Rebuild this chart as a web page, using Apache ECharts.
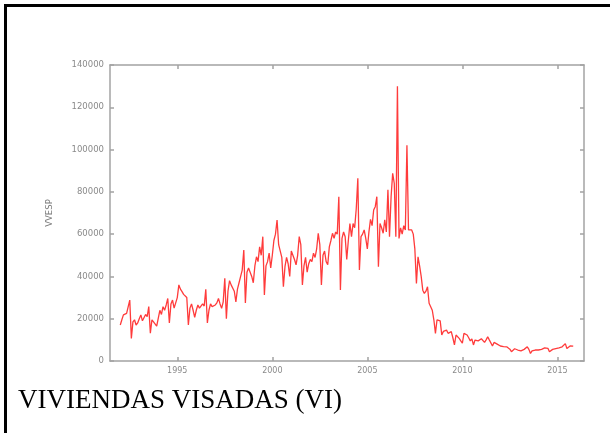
<!DOCTYPE html>
<html>
<head>
<meta charset="utf-8">
<script src="https://cdn.jsdelivr.net/npm/echarts@6/dist/echarts.min.js"></script>
<style>
  html, body { margin: 0; padding: 0; background: #fff; }
  #chart { width: 610px; height: 433px; }
</style>
</head>
<body>
<div id="chart"></div>
<script>
// Viviendas visadas, serie mensual (enero de cada año en adelante)
const years = [1992, 1993, 1994, 1995, 1996, 1997, 1998, 1999, 2000, 2001, 2002, 2003,
               2004, 2005, 2006, 2007, 2008, 2009, 2010, 2011, 2012, 2013, 2014, 2015];

const v1992 = [17000, 19500, 21800, 22500, 22500, 23000, 28800, 10700, 18500, 19500, 17000, 18000];
const v1993 = [20000, 21800, 19000, 18500, 22000, 21000, 25700, 13200, 19500, 18500, 18000, 16500];
const v1994 = [17000, 24000, 22000, 25700, 24000, 26500, 29600, 18000, 27000, 28800, 25000, 25700];
const v1995 = [30000, 36000, 34000, 32800, 31500, 31000, 30000, 17000, 25000, 27000, 24000, 20600];
const v1996 = [24000, 26500, 25000, 25700, 27000, 26000, 33900, 18000, 24000, 27000, 25700, 26500];
const v1997 = [26500, 27500, 29600, 27000, 24900, 28000, 39100, 20000, 33000, 38000, 36000, 36500];
const v1998 = [33000, 28000, 34000, 37000, 40000, 43000, 52500, 27400, 42000, 44000, 44600, 40000];
const v1999 = [37000, 45000, 49300, 47000, 54000, 50000, 58800, 31200, 45000, 47000, 51000, 44000];
const v2000 = [50000, 57000, 60000, 66700, 55000, 55000, 49000, 35100, 44600, 49000, 46000, 40000];
const v2001 = [52000, 52500, 48000, 45500, 50000, 58800, 55000, 36000, 45000, 49000, 42000, 46000];
const v2002 = [48000, 47000, 51000, 49000, 53000, 60400, 55000, 36000, 50000, 52000, 47000, 45500];
const v2003 = [54000, 57000, 60400, 58000, 61000, 60000, 77700, 33600, 58000, 61000, 58800, 48000];
const v2004 = [57000, 65000, 58800, 65000, 63000, 72000, 86400, 43000, 58800, 60000, 62000, 58000];
const v2005 = [53000, 61000, 67000, 64000, 71400, 73000, 77700, 44600, 65000, 63000, 60400, 66800];
const v2006 = [61000, 81000, 58800, 77700, 88800, 84000, 58800, 130000, 58000, 63000, 60000, 64000];
const v2007 = [62000, 102000, 62000, 62500, 62000, 60000, 53000, 36700, 49300, 45000, 40000, 33500];
const v2008 = [32000, 33000, 35100, 27300, 25700, 24000, 19500, 13100, 19500, 20000, 19000, 12300];
const v2009 = [14000, 13900, 14600, 13100, 13700, 13900, 11000, 7600, 12300, 11500, 10700, 9500];
const v2010 = [8400, 13100, 12800, 12300, 11000, 9500, 10500, 7600, 9900, 10500, 9500, 10000];
const v2011 = [10500, 9800, 8800, 10000, 11500, 10000, 9500, 7100, 8800, 8500, 8000, 7600];
const v2012 = [7100, 7000, 6800, 6500, 6700, 6000, 5600, 4400, 5200, 5800, 5900, 5200];
const v2013 = [5200, 4800, 5200, 5500, 6000, 6700, 5500, 3600, 4800, 5000, 5200, 4800];
const v2014 = [5200, 5900, 5500, 6000, 6200, 7100, 6000, 4400, 3600, 5500, 5600, 5900];
const v2015 = [5900, 6200, 6000, 6700, 7000, 8200, 5900, 5200, 7100, 6500, 7000];

const monthly = [v1992, v1993, v1994, v1995, v1996, v1997, v1998, v1999, v2000, v2001, v2002, v2003,
                 v2004, v2005, v2006, v2007, v2008, v2009, v2010, v2011, v2012, v2013, v2014, v2015];

const xTicks = [1995, 2000, 2005, 2010, 2015];
const yTickLabels = ['0', '20000', '40000', '60000', '80000', '100000', '120000', '140000'];

const seriesName = 'VVESP';
const caption = 'VIVIENDAS VISADAS (VI)';

// [fecha decimal, valor] para cada mes
const points = [];
years.forEach((y, i) => {
  monthly[i].forEach((v, m) => points.push([y + m / 12, v]));
});

const frameColor = '#a3a3a3';
const labelColor = '#8a8a8a';
const tickStyle = { show: true, inside: true, length: 4, lineStyle: { color: frameColor, width: 1.5 } };
const xMin = 1991.46, xMax = 2016.4;

const chart = echarts.init(document.getElementById('chart'), null, { renderer: 'canvas' });
chart.setOption({
  animation: false,
  backgroundColor: '#ffffff',
  title: {
    text: caption,
    left: 18,
    top: 387,
    padding: 0,
    textStyle: { fontFamily: 'Liberation Serif', fontWeight: 'normal', fontSize: 27, color: '#000' }
  },
  grid: { left: 110, top: 65, right: 26, bottom: 72, show: false },
  xAxis: [
    {
      type: 'value', min: xMin, max: xMax, position: 'bottom',
      axisLine: { show: true, onZero: false, lineStyle: { color: frameColor, width: 1.5 } },
      axisTick: Object.assign({ customValues: xTicks }, tickStyle),
      axisLabel: {
        customValues: xTicks, margin: 6, color: labelColor,
        fontFamily: 'DejaVu Sans', fontSize: 8, formatter: v => String(Math.round(v))
      },
      splitLine: { show: false }
    },
    {
      type: 'value', min: xMin, max: xMax, position: 'top',
      axisLine: { show: true, onZero: false, lineStyle: { color: frameColor, width: 1.5 } },
      axisTick: Object.assign({ customValues: xTicks }, tickStyle),
      axisLabel: { show: false },
      splitLine: { show: false }
    }
  ],
  yAxis: [
    {
      type: 'value', min: 0, max: 140000, interval: 20000, position: 'left',
      name: seriesName, nameLocation: 'middle', nameGap: 56, nameRotate: 90,
      nameTextStyle: { color: '#7a7a7a', fontFamily: 'DejaVu Sans', fontSize: 8.5 },
      axisLine: { show: true, onZero: false, lineStyle: { color: frameColor, width: 1.5 } },
      axisTick: tickStyle,
      axisLabel: {
        margin: 6, color: labelColor, fontFamily: 'DejaVu Sans', fontSize: 8.5,
        formatter: v => yTickLabels[Math.round(v / 20000)]
      },
      splitLine: { show: false }
    },
    {
      type: 'value', min: 0, max: 140000, interval: 20000, position: 'right',
      axisLine: { show: true, onZero: false, lineStyle: { color: frameColor, width: 1.5 } },
      axisTick: tickStyle,
      axisLabel: { show: false },
      splitLine: { show: false }
    }
  ],
  series: [{
    name: seriesName,
    type: 'line',
    data: points,
    xAxisIndex: 0,
    yAxisIndex: 0,
    symbol: 'none',
    lineStyle: { color: '#ff3b3b', width: 1.3 },
    z: 3
  }],
  graphic: [
    { type: 'rect', shape: { x: 4, y: 4, width: 606, height: 3 }, style: { fill: '#000' }, z: 10 },
    { type: 'rect', shape: { x: 4, y: 4, width: 3, height: 429 }, style: { fill: '#000' }, z: 10 }
  ]
});
</script>
</body>
</html>
